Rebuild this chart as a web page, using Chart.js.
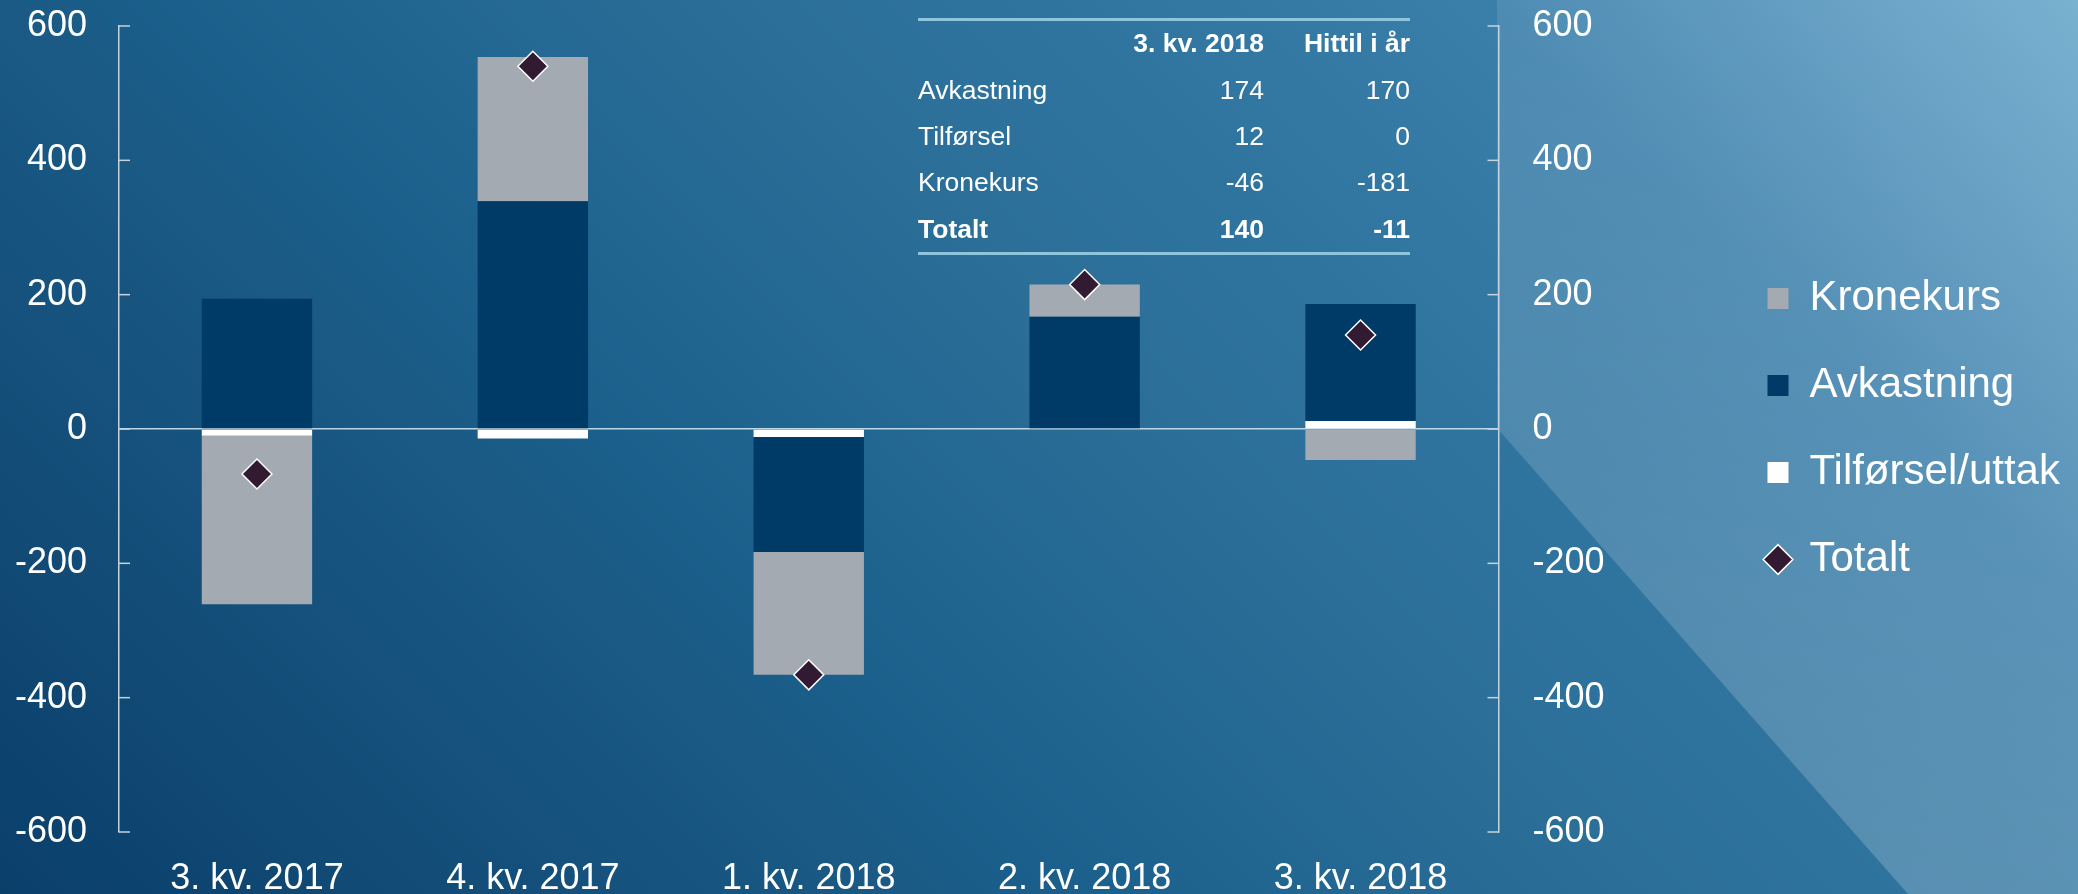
<!DOCTYPE html>
<html>
<head>
<meta charset="utf-8">
<script src="https://cdn.jsdelivr.net/npm/chart.js@4.4.1/dist/chart.umd.min.js"></script>
<style>
  html, body { margin: 0; padding: 0; }
  body { width: 2078px; height: 894px; overflow: hidden; font-family: 'Liberation Sans', Arial, sans-serif; }
  #wrap {
    position: relative; width: 2078px; height: 894px;
    background: linear-gradient(45deg, #0a3f6a 0%, #1a5a85 30%, #1b5f8c 36%, #2b6f99 55%, #2f749f 65%, #3a7eaa 80%, #6aa8cc 100%);
  }
  #shine {
    position: absolute; left: 0; top: 0; width: 2078px; height: 894px;
    clip-path: polygon(1497px 0, 1497px 428px, 1908px 894px, 2078px 894px, 2078px 0);
    background: linear-gradient(to bottom, rgba(255,255,255,0.1), rgba(255,255,255,0.2));
  }
  canvas { position: absolute; left: 0; top: 0; }
  #summary {
    position: absolute; left: 918px; top: 17.5px; width: 492px;
    border-collapse: separate; border-spacing: 0;
    border-top: 3px solid #8fc4dd; border-bottom: 3px solid #8fc4dd;
    color: #fff; font-size: 26.5px;
  }
  #summary td { height: 46.4px; padding: 0; text-align: right; white-space: nowrap; }
  #summary td:first-child { text-align: left; width: 200px; }
  #summary td:nth-child(2) { width: 146px; }
  #summary td:nth-child(3) { width: 146px; }
  #summary tr.bold td { font-weight: bold; }
</style>
</head>
<body>
<div id="wrap">
  <div id="shine"></div>
  <canvas id="chart" width="2078" height="894"></canvas>
  <table id="summary"></table>
</div>
<script>
const quarters = ['3. kv. 2017', '4. kv. 2017', '1. kv. 2018', '2. kv. 2018', '3. kv. 2018']
const tilforsel = [-10, -14, -12, 0, 12]
const avkastning = [194, 339, -171, 167, 174]
const kronekurs = [-251, 215, -183, 48, -46]
const totalt = [-67, 540, -366, 215, 140]
const yTicks = [-600, -400, -200, 0, 200, 400, 600]
const legendOrder = ['Kronekurs', 'Avkastning', 'Tilførsel/uttak', 'Totalt']

const tableHeader = ['', '3. kv. 2018', 'Hittil i år']
const tableLabels = ['Avkastning', 'Tilførsel', 'Kronekurs', 'Totalt']
const tableQuarter = [174, 12, -46, 140]
const tableYearToDate = [170, 0, -181, -11]

const axisColor = '#c4d3de'
const zeroColor = 'rgba(205, 228, 240, 0.9)'

Chart.defaults.font.family = "'Liberation Sans', Arial, sans-serif"
Chart.defaults.color = '#ffffff'

// tabellen oppe til høyre
function buildTable() {
  const table = document.getElementById('summary')
  const rows = [tableHeader].concat(
    tableLabels.map((label, i) => [label, tableQuarter[i], tableYearToDate[i]]),
  )
  rows.forEach((cells, i) => {
    const tr = document.createElement('tr')
    if (i === 0 || i === rows.length - 1) tr.className = 'bold'
    cells.forEach((cell) => {
      const td = document.createElement('td')
      td.textContent = cell
      tr.appendChild(td)
    })
    table.appendChild(tr)
  })
}

// små tick-streker som peker inn mot plottet
const inwardTicks = {
  id: 'inwardTicks',
  afterDraw(chart) {
    const ctx = chart.ctx
    ctx.save()
    ctx.strokeStyle = axisColor
    ctx.lineWidth = 1.5
    ;['y', 'y2'].forEach((id) => {
      const scale = chart.scales[id]
      const x = id === 'y' ? scale.right : scale.left
      const dir = id === 'y' ? 1 : -1
      scale.ticks.forEach((tick) => {
        const y = scale.getPixelForValue(tick.value)
        ctx.beginPath()
        ctx.moveTo(x, y)
        ctx.lineTo(x + dir * 11, y)
        ctx.stroke()
      })
    })
    ctx.restore()
  },
}

const setTicks = (scale) => {
  scale.ticks = yTicks.map((v) => ({ value: v }))
}

// fast bredde på aksene, uten ekstra luft over og under
const fixWidth = (width) => (scale) => {
  scale.width = width
  scale.paddingTop = 0
  scale.paddingBottom = 0
}

buildTable()

new Chart(document.getElementById('chart'), {
  data: {
    labels: quarters,
    datasets: [
      { type: 'bar', label: 'Tilførsel/uttak', data: tilforsel, backgroundColor: '#ffffff', order: 1 },
      { type: 'bar', label: 'Avkastning', data: avkastning, backgroundColor: '#003a66', order: 1 },
      { type: 'bar', label: 'Kronekurs', data: kronekurs, backgroundColor: '#a3aab2', order: 1 },
      {
        type: 'line',
        label: 'Totalt',
        data: totalt,
        stack: 'totalt',
        showLine: false,
        pointStyle: 'rectRot',
        pointRadius: 15,
        pointBackgroundColor: '#331a33',
        pointBorderColor: '#ffffff',
        pointBorderWidth: 1.5,
        backgroundColor: '#331a33',
        borderColor: '#ffffff',
        order: 0,
      },
    ],
  },
  options: {
    responsive: false,
    animation: false,
    events: [],
    layout: { padding: { top: 26, right: 11, bottom: 0, left: 0 } },
    datasets: {
      bar: { barPercentage: 0.4, categoryPercentage: 1, borderWidth: 0 },
    },
    plugins: {
      tooltip: { enabled: false },
      legend: {
        position: 'right',
        fullSize: false,
        labels: {
          color: '#ffffff',
          font: { size: 42 },
          usePointStyle: true,
          boxWidth: 21,
          boxHeight: 21,
          padding: 45,
          generateLabels: (chart) =>
            Chart.defaults.plugins.legend.labels
              .generateLabels(chart)
              .map((item) => ({ ...item, pointStyle: item.text === 'Totalt' ? 'rectRot' : 'rect' })),
          sort: (a, b) => legendOrder.indexOf(a.text) - legendOrder.indexOf(b.text),
        },
      },
    },
    scales: {
      x: {
        stacked: true,
        grid: { display: false },
        border: { display: false },
        ticks: { color: '#ffffff', font: { size: 36 }, padding: 17, maxRotation: 0 },
        afterFit: (scale) => {
          scale.height = 62
        },
      },
      y: {
        stacked: true,
        min: -600,
        max: 600,
        afterBuildTicks: setTicks,
        grid: {
          drawTicks: false,
          color: (c) => (c.tick && c.tick.value === 0 ? zeroColor : 'transparent'),
          lineWidth: 1.5,
        },
        border: { color: axisColor, width: 1.5 },
        ticks: { color: '#ffffff', font: { size: 36 }, padding: 32 },
        afterFit: fixWidth(119),
      },
      y2: {
        position: 'right',
        min: -600,
        max: 600,
        afterBuildTicks: setTicks,
        grid: { drawTicks: false, color: 'transparent' },
        border: { color: axisColor, width: 1.5 },
        ticks: { color: '#ffffff', font: { size: 36 }, padding: 34 },
        afterFit: fixWidth(224),
      },
    },
  },
  plugins: [inwardTicks],
})
</script>
</body>
</html>
